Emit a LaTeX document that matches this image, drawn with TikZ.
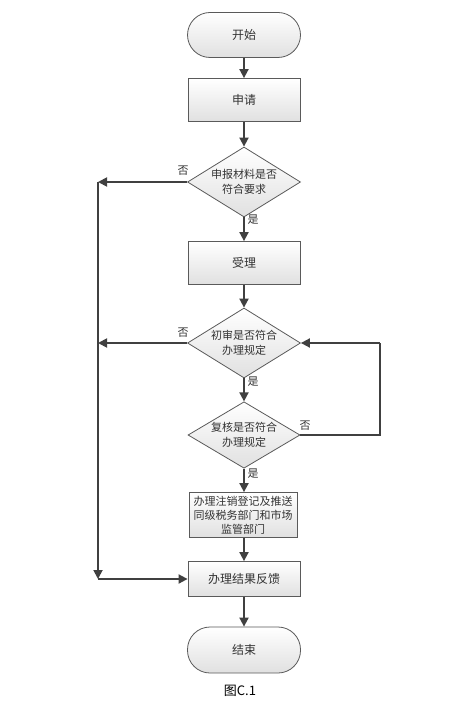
\documentclass[tikz,border=0pt]{standalone}
\usepackage{fontspec}
\newfontfamily\cjk{Noto Sans CJK SC}
\setmainfont{Liberation Sans}
\usetikzlibrary{shapes.geometric,arrows.meta}
\definecolor{edge}{HTML}{404040}
\definecolor{outline}{HTML}{5A5A5A}
\definecolor{txt}{HTML}{333333}
\tikzset{
  base/.style={draw=outline, line width=0.8pt, top color=white, bottom color=black!12, text=txt, font=\cjk\fontsize{12}{15}\selectfont, align=center, inner sep=0pt},
  term/.style={base, rectangle, rounded corners=22.5pt, minimum width=113pt, minimum height=45pt},
  proc/.style={base, rectangle, minimum width=112pt, minimum height=43pt},
  dec/.style={base, diamond, aspect=1.6, minimum width=113pt, minimum height=70pt, font=\cjk\fontsize{11}{15}\selectfont},
  flow/.style={draw=edge, line width=1.8pt, -{Triangle[length=9pt,width=9pt]}},
  line/.style={draw=edge, line width=1.8pt},
  lab/.style={text=txt, font=\cjk\fontsize{11}{13}\selectfont, inner sep=0pt}
}
\begin{document}
\begin{tikzpicture}[x=1pt,y=-1pt]
\useasboundingbox[fill=white] (0,0) rectangle (475,727);
\node[term] (start) at (244,35) {开始};
\node[proc] (apply) at (244,100) {申请};
\node[dec] (d1) at (244,182) {申报材料是否\\符合要求};
\node[proc] (accept) at (244,263) {受理};
\node[dec] (d2) at (244,343) {初审是否符合\\办理规定};
\node[dec, minimum height=66pt, minimum width=112pt] (d3) at (244,435) {复核是否符合\\办理规定};
\node[proc, minimum width=108pt, minimum height=45pt, font=\cjk\fontsize{11}{14}\selectfont] (cancel) at (243,515) {办理注销登记及推送\\同级税务部门和市场\\监管部门};
\node[proc, minimum height=35pt] (result) at (244,579) {办理结果反馈};
\node[term, minimum height=46pt] (end) at (244,650) {结束};
\node[font=\cjk\fontsize{13}{15}\selectfont, inner sep=0pt] (cap) at (240,691) {图C.1};

\coordinate (L1) at (98,182);
\coordinate (L2) at (98,343);
\coordinate (L3) at (98,579);
\coordinate (R1) at (380,435);
\coordinate (R2) at (380,343);

\draw[flow] (start) -- (apply);
\draw[flow] (apply) -- (d1);
\draw[flow] (d1) -- (accept);
\draw[flow] (accept) -- (d2);
\draw[flow] (d2) -- (d3);
\draw[flow] (d3.south) -- (d3.south |- cancel.north);
\draw[flow] (cancel.south -| result.north) -- (result.north);
\draw[flow] (result) -- (end);

\draw[flow] (d1.west) -- (L1);
\draw[flow] (d2.west) -- (L2);
\draw[flow] (L1) -- (L3);
\draw[flow] (L3) -- (result.west);
\draw[line] (d3.east) -- (R1) -- (R2);
\draw[flow] (R2) -- (d2.east);

\node[lab] (n1) at (183,171) {否};
\node[lab] (y1) at (253,220) {是};
\node[lab] (n2) at (183,333) {否};
\node[lab] (y2) at (253,382) {是};
\node[lab] (n3) at (305,426) {否};
\node[lab] (y3) at (253,474) {是};
\end{tikzpicture}
\end{document}
